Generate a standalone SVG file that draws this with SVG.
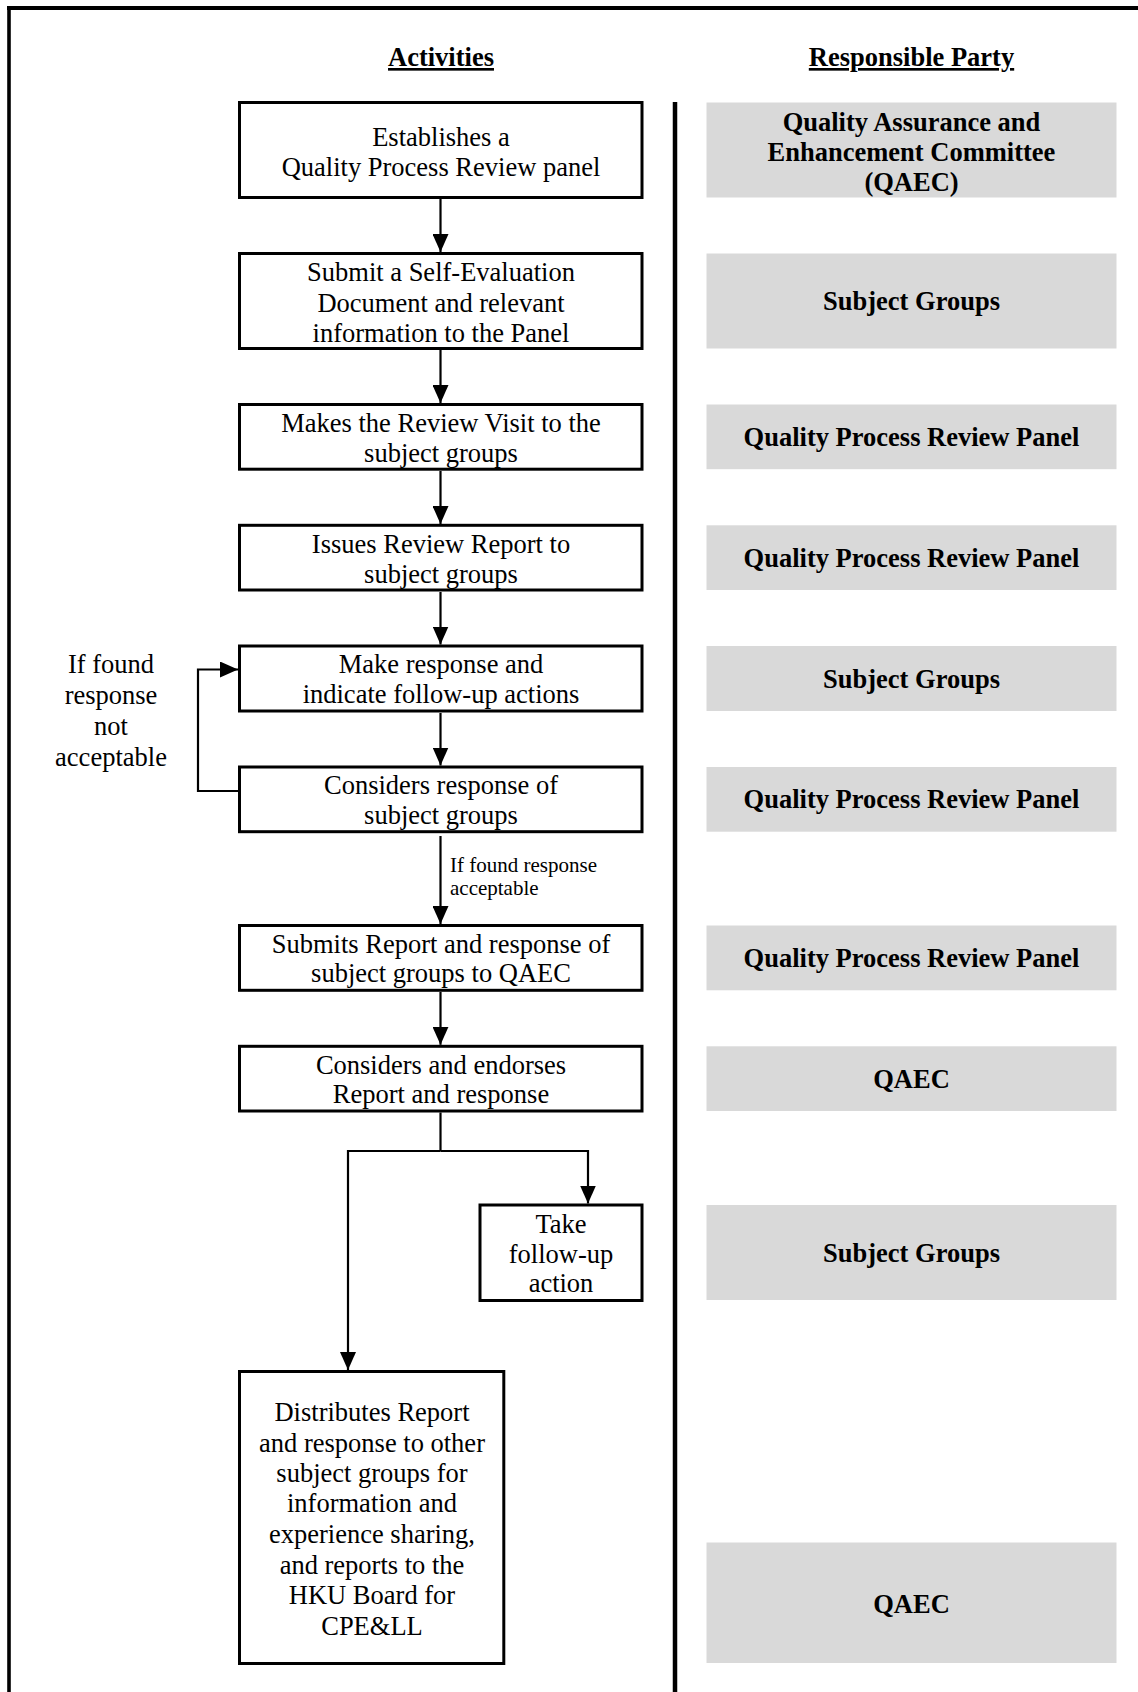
<svg xmlns="http://www.w3.org/2000/svg" width="1138" height="1692" viewBox="0 0 1138 1692">
  <defs>
    <marker id="arrow" viewBox="0 0 18 16" refX="18" refY="8" markerWidth="18" markerHeight="16" markerUnits="userSpaceOnUse" orient="auto">
      <path d="M0,0 L18,8 L0,16 Z" fill="#000"/>
    </marker>
    <style>
      .act { fill: #fff; stroke: #000; stroke-width: 3; }
      .party { fill: #d9d9d9; stroke: none; }
      .t { font-family: "Liberation Serif", "Times New Roman", serif; font-size: 26.5px; fill: #000; text-anchor: middle; }
      .b { font-weight: bold; }
      .small { font-size: 21px; text-anchor: start; }
      .head { font-weight: bold; text-decoration: underline; }
      .conn { fill: none; stroke: #000; stroke-width: 2.2; }
      .frame { fill: none; stroke: #000; }
    </style>
  </defs>

  <rect x="0" y="0" width="1138" height="1692" fill="#fff"/>

  <!-- page frame and column divider -->
  <g id="frame">
    <line class="frame" x1="9" y1="6" x2="9" y2="1692" stroke-width="3.6"/>
    <line class="frame" x1="7" y1="8" x2="1138" y2="8" stroke-width="4"/>
    <line class="frame" x1="675" y1="102" x2="675" y2="1692" stroke-width="4.5"/>
  </g>

  <!-- column headings -->
  <g id="headings">
    <text class="t head" x="441" y="66">Activities</text>
    <text class="t head" x="911.5" y="66">Responsible Party</text>
  </g>

  <!-- activity boxes -->
  <g id="act1">
    <rect class="act" x="239.5" y="102.5" width="402.5" height="95"/>
    <text class="t" x="441" y="145.5">Establishes a</text>
    <text class="t" x="441" y="175.5">Quality Process Review panel</text>
  </g>
  <g id="act2">
    <rect class="act" x="239.5" y="253.5" width="402.5" height="95"/>
    <text class="t" x="441" y="281">Submit a Self-Evaluation</text>
    <text class="t" x="441" y="311.5">Document and relevant</text>
    <text class="t" x="441" y="341.5">information to the Panel</text>
  </g>
  <g id="act3">
    <rect class="act" x="239.5" y="404.5" width="402.5" height="64.7"/>
    <text class="t" x="441" y="431.5">Makes the Review Visit to the</text>
    <text class="t" x="441" y="461.5">subject groups</text>
  </g>
  <g id="act4">
    <rect class="act" x="239.5" y="525.3" width="402.5" height="64.7"/>
    <text class="t" x="441" y="552.5">Issues Review Report to</text>
    <text class="t" x="441" y="582.5">subject groups</text>
  </g>
  <g id="act5">
    <rect class="act" x="239.5" y="646" width="402.5" height="65"/>
    <text class="t" x="441" y="672.7">Make response and</text>
    <text class="t" x="441" y="702.7">indicate follow-up actions</text>
  </g>
  <g id="act6">
    <rect class="act" x="239.5" y="767" width="402.5" height="64.7"/>
    <text class="t" x="441" y="794">Considers response of</text>
    <text class="t" x="441" y="823.5">subject groups</text>
  </g>
  <g id="act7">
    <rect class="act" x="239.5" y="925.5" width="402.5" height="64.8"/>
    <text class="t" x="441" y="953.3">Submits Report and response of</text>
    <text class="t" x="441" y="981.7">subject groups to QAEC</text>
  </g>
  <g id="act8">
    <rect class="act" x="239.5" y="1046.3" width="402.5" height="64.7"/>
    <text class="t" x="441" y="1073.5">Considers and endorses</text>
    <text class="t" x="441" y="1103.3">Report and response</text>
  </g>
  <g id="act9">
    <rect class="act" x="480" y="1205" width="162" height="95.5"/>
    <text class="t" x="561" y="1232.7">Take</text>
    <text class="t" x="561" y="1262.7">follow-up</text>
    <text class="t" x="561" y="1291.7">action</text>
  </g>
  <g id="act10">
    <rect class="act" x="239.5" y="1371.5" width="264.3" height="292"/>
    <text class="t" x="372" y="1421">Distributes Report</text>
    <text class="t" x="372" y="1451.5">and response to other</text>
    <text class="t" x="372" y="1481.8">subject groups for</text>
    <text class="t" x="372" y="1512.4">information and</text>
    <text class="t" x="372" y="1543">experience sharing,</text>
    <text class="t" x="372" y="1573.6">and reports to the</text>
    <text class="t" x="372" y="1604.2">HKU Board for</text>
    <text class="t" x="372" y="1634.6">CPE&amp;LL</text>
  </g>

  <!-- responsible party boxes -->
  <g id="party1">
    <rect class="party" x="706.5" y="102.5" width="410" height="95"/>
    <text class="t b" x="911.5" y="130.5">Quality Assurance and</text>
    <text class="t b" x="911.5" y="160.5">Enhancement Committee</text>
    <text class="t b" x="911.5" y="190.5">(QAEC)</text>
  </g>
  <g id="party2">
    <rect class="party" x="706.5" y="253.5" width="410" height="95"/>
    <text class="t b" x="911.5" y="310">Subject Groups</text>
  </g>
  <g id="party3">
    <rect class="party" x="706.5" y="404.5" width="410" height="64.7"/>
    <text class="t b" x="911.5" y="446">Quality Process Review Panel</text>
  </g>
  <g id="party4">
    <rect class="party" x="706.5" y="525.3" width="410" height="64.7"/>
    <text class="t b" x="911.5" y="566.7">Quality Process Review Panel</text>
  </g>
  <g id="party5">
    <rect class="party" x="706.5" y="646" width="410" height="65"/>
    <text class="t b" x="911.5" y="687.5">Subject Groups</text>
  </g>
  <g id="party6">
    <rect class="party" x="706.5" y="767" width="410" height="64.7"/>
    <text class="t b" x="911.5" y="808.4">Quality Process Review Panel</text>
  </g>
  <g id="party7">
    <rect class="party" x="706.5" y="925.5" width="410" height="64.8"/>
    <text class="t b" x="911.5" y="967">Quality Process Review Panel</text>
  </g>
  <g id="party8">
    <rect class="party" x="706.5" y="1046.3" width="410" height="64.7"/>
    <text class="t b" x="911.5" y="1087.7">QAEC</text>
  </g>
  <g id="party9">
    <rect class="party" x="706.5" y="1205" width="410" height="95"/>
    <text class="t b" x="911.5" y="1261.5">Subject Groups</text>
  </g>
  <g id="party10">
    <rect class="party" x="706.5" y="1542.5" width="410" height="120.5"/>
    <text class="t b" x="911.5" y="1612.5">QAEC</text>
  </g>

  <!-- connectors -->
  <g id="connectors">
    <line class="conn" x1="440.5" y1="199" x2="440.5" y2="252" marker-end="url(#arrow)"/>
    <line class="conn" x1="440.5" y1="350" x2="440.5" y2="403" marker-end="url(#arrow)"/>
    <line class="conn" x1="440.5" y1="471" x2="440.5" y2="524" marker-end="url(#arrow)"/>
    <line class="conn" x1="440.5" y1="592" x2="440.5" y2="644.5" marker-end="url(#arrow)"/>
    <line class="conn" x1="440.5" y1="713" x2="440.5" y2="765.5" marker-end="url(#arrow)"/>
    <line class="conn" x1="440.5" y1="836" x2="440.5" y2="924" marker-end="url(#arrow)"/>
    <line class="conn" x1="440.5" y1="992" x2="440.5" y2="1044.8" marker-end="url(#arrow)"/>
    <!-- rejection loop back to the response step -->
    <polyline class="conn" points="238,791 198,791 198,669.5 238,669.5" marker-end="url(#arrow)"/>
    <!-- split after endorsement -->
    <line class="conn" x1="440.5" y1="1112.5" x2="440.5" y2="1151"/>
    <polyline class="conn" points="440.5,1151 588,1151 588,1203.5" marker-end="url(#arrow)"/>
    <polyline class="conn" points="440.5,1151 348,1151 348,1370" marker-end="url(#arrow)"/>
  </g>

  <!-- connector labels -->
  <g id="labels">
    <text class="t" x="111" y="673">If found</text>
    <text class="t" x="111" y="704">response</text>
    <text class="t" x="111" y="735">not</text>
    <text class="t" x="111" y="766">acceptable</text>
    <text class="t small" x="450" y="871.5">If found response</text>
    <text class="t small" x="450" y="895">acceptable</text>
  </g>
</svg>
